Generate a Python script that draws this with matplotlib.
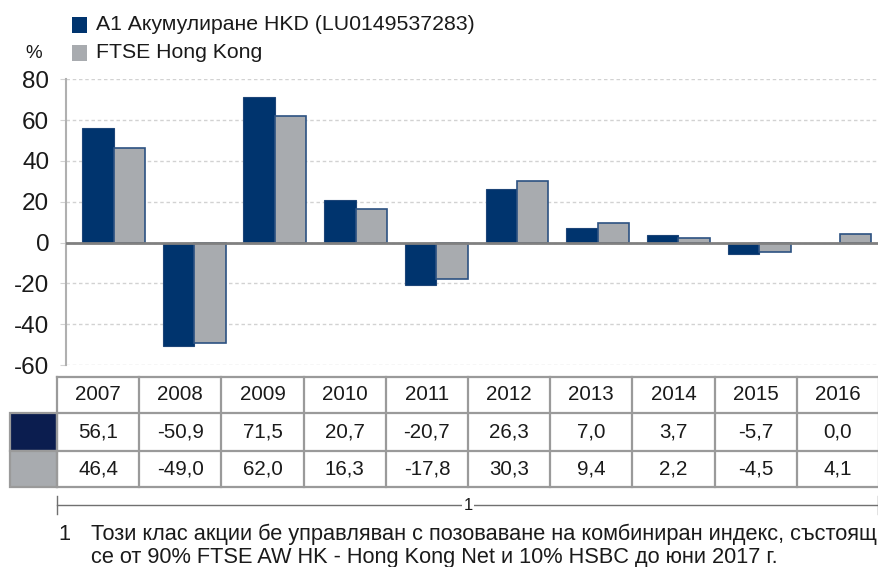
import matplotlib
matplotlib.use("Agg")
import matplotlib.pyplot as plt
from matplotlib.patches import Rectangle
from matplotlib.lines import Line2D

years = ["2007", "2008", "2009", "2010", "2011", "2012", "2013", "2014", "2015", "2016"]
fund = [56.1, -50.9, 71.5, 20.7, -20.7, 26.3, 7.0, 3.7, -5.7, 0.0]
index = [46.4, -49.0, 62.0, 16.3, -17.8, 30.3, 9.4, 2.2, -4.5, 4.1]
fund_label = "A1 Акумулиране HKD (LU0149537283)"
index_label = "FTSE Hong Kong"
note_lines = ["Този клас акции бе управляван с позоваване на комбиниран индекс, състоящ",
              "се от 90% FTSE AW HK - Hong Kong Net и 10% HSBC до юни 2017 г."]

plt.rcParams['font.family'] = ['Liberation Sans', 'DejaVu Sans']
plt.rcParams['axes.unicode_minus'] = False

W, H = 879, 567
navy = "#00346e"
navy_dark = "#0b1d4f"
grey = "#a8abaf"
edge = "#2c5282"
txt = "#1a1a1a"
line_grey = "#9a9a9a"

fig = plt.figure(figsize=(W / 100, H / 100), dpi=100)


def px(x, y):
    return x / W, 1 - y / H


# main axes
ax = fig.add_axes([66 / W, 1 - 365 / H, (W - 66) / W, (365 - 79.3) / H])
xs = list(range(len(years)))
bw = 0.39
ax.bar([x - bw / 2 for x in xs], fund, width=bw, color=navy, edgecolor="#1d4578", linewidth=0.8, zorder=3)
ax.bar([x + bw / 2 for x in xs], index, width=bw, color=grey, edgecolor=edge, linewidth=1.2, zorder=3)
ax.axhline(0, color="#808080", lw=2, zorder=4)
ax.set_xlim(-0.589, 9.486)
ax.set_ylim(-60, 80)
ax.set_yticks(range(-60, 81, 20))
ax.set_xticks([])
ax.grid(axis="y", color="#d2d2d2", linestyle=(0, (2.5, 2)), lw=1, zorder=0)
for s in ["top", "right", "bottom"]:
    ax.spines[s].set_visible(False)
ax.spines["left"].set_color("#b0b0b0")
ax.spines["left"].set_linewidth(1.5)
ax.tick_params(axis="y", length=4, color="#d2d2d2", pad=8, labelsize=17.5, labelcolor=txt)

# y unit label
fig.text(*px(34, 54), "%", ha="center", va="center", fontsize=13.5, color=txt)

# legend
for i, (lab, col) in enumerate([(fund_label, navy), (index_label, grey)]):
    cy = 25 + 28 * i
    x0, y0 = px(72, cy + 7.5)
    fig.add_artist(Rectangle((x0, y0), 15 / W, 15 / H, facecolor=col, edgecolor="none",
                             transform=fig.transFigure))
    fig.text(*px(96, cy), lab, ha="left", va="center", fontsize=15.3, color=txt)

# data table
col_x = [57 + 82.2 * i for i in range(len(years) + 1)]
row_y = [377, 413, 451, 487]
lw_t = 1.6
for y in row_y:
    fig.add_artist(Line2D([col_x[0] / W, col_x[-1] / W], [1 - y / H] * 2, color=line_grey, lw=lw_t))
for x in col_x:
    fig.add_artist(Line2D([x / W] * 2, [1 - row_y[0] / H, 1 - row_y[-1] / H], color=line_grey, lw=lw_t))
# swatch cells
for r, col in enumerate([navy_dark, grey]):
    x0, y0 = px(10, row_y[r + 2])
    fig.add_artist(Rectangle((x0, y0), 47 / W, (row_y[r + 2] - row_y[r + 1]) / H,
                             facecolor=col, edgecolor=line_grey, lw=lw_t, transform=fig.transFigure))
for i, yr in enumerate(years):
    cx = (col_x[i] + col_x[i + 1]) / 2
    fig.text(*px(cx, (row_y[0] + row_y[1]) / 2), yr, ha="center", va="center", fontsize=14.8, color=txt)
    fig.text(*px(cx, (row_y[1] + row_y[2]) / 2), f"{fund[i]:.1f}".replace(".", ","),
             ha="center", va="center", fontsize=14.8, color=txt)
    fig.text(*px(cx, (row_y[2] + row_y[3]) / 2), f"{index[i]:.1f}".replace(".", ","),
             ha="center", va="center", fontsize=14.8, color=txt)

# bracket for note
by = 505
fig.add_artist(Line2D([57 / W, 878 / W], [1 - by / H] * 2, color="#707070", lw=1))
for x in (57, 878):
    fig.add_artist(Line2D([x / W] * 2, [1 - 496 / H, 1 - 514 / H], color="#707070", lw=1))
fig.text(*px(468, by), "1", ha="center", va="center", fontsize=12, color=txt,
         bbox=dict(facecolor="white", edgecolor="none", pad=1))

# footnote
fig.text(*px(58, 534), "1", ha="left", va="center", fontsize=15.7, color=txt)
fig.text(*px(91, 534), note_lines[0], ha="left", va="center", fontsize=15.7, color=txt)
fig.text(*px(91, 558), note_lines[1], ha="left", va="center", fontsize=15.7, color=txt)

fig.savefig("out.png", dpi=100)
